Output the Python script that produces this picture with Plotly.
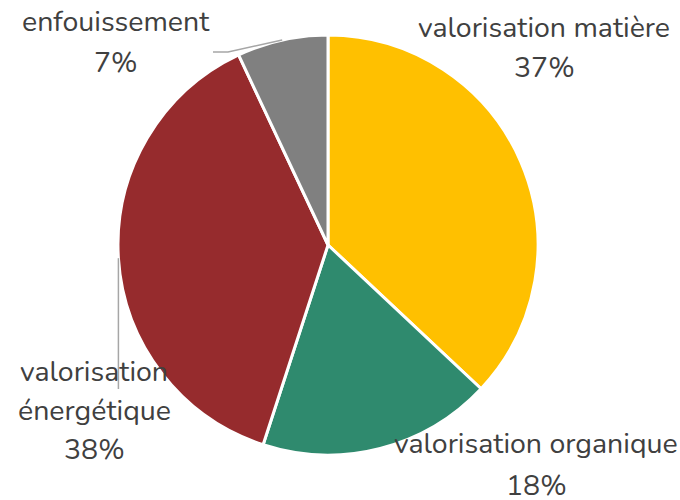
import math
import plotly.graph_objects as go

# ---- data ----
categories = ["valorisation matière", "valorisation organique", "valorisation énergétique", "enfouissement"]
values = [37, 18, 38, 7]
colors = ["#FFC000", "#2F8A6E", "#962B2D", "#808080"]
label_lines = [["valorisation matière"], ["valorisation organique"], ["valorisation", "énergétique"], ["enfouissement"]]

# ---- layout constants (pixels) ----
W, H = 680, 500
CX, CY, R = 328, 245, 210
label_pos = [(544, 27), (536, 443), (94, 371), (116, 21)]  # first line centre
line_gaps = [40, 42, 39, 41]
font_family = "Nunito, 'Noto Sans', Lato, sans-serif"
font_size = 28.5
text_color = "#404040"


def px(x):
    return x / W


def py(y):
    return 1 - y / H


fig = go.Figure(go.Pie(
    labels=categories,
    values=values,
    sort=False,
    direction="clockwise",
    rotation=0,
    marker=dict(colors=colors, line=dict(color="white", width=3)),
    textinfo="none",
    hoverinfo="label+percent",
    domain=dict(x=[px(CX - R), px(CX + R)], y=[py(CY + R), py(CY - R)]),
    showlegend=False,
))

annotations = []
for lines, v, (lx, ly), gap in zip(label_lines, values, label_pos, line_gaps):
    all_lines = lines + [f"{v}%"]
    for i, t in enumerate(all_lines):
        annotations.append(dict(
            x=px(lx), y=py(ly + i * gap), xref="paper", yref="paper",
            text=t, showarrow=False, xanchor="center", yanchor="middle",
            font=dict(family=font_family, size=font_size, color=text_color),
        ))

# leader lines from slice mid-arc
total = sum(values)
cum = 0
mids = []
for v in values:
    ang = math.radians(360 * (cum + v / 2) / total)
    mids.append((CX + R * math.sin(ang), CY - R * math.cos(ang)))
    cum += v

shapes = []
line_style = dict(color="#A6A6A6", width=1.5)
# enfouissement
ex, ey = mids[3]
shapes.append(dict(type="path", xref="paper", yref="paper",
                   path=f"M {px(ex)},{py(ey)} L {px(228)},{py(52)} L {px(213)},{py(52)}",
                   line=line_style))
# valorisation énergétique
rx, ry = mids[2]
shapes.append(dict(type="line", xref="paper", yref="paper",
                   x0=px(rx), y0=py(ry), x1=px(rx), y1=py(389), line=line_style))

fig.update_layout(
    width=W, height=H,
    margin=dict(l=0, r=0, t=0, b=0),
    paper_bgcolor="white", plot_bgcolor="white",
    annotations=annotations, shapes=shapes,
)

fig.write_html("out.html", config={"displayModeBar": False},
               post_script="document.body.style.margin='0';")
